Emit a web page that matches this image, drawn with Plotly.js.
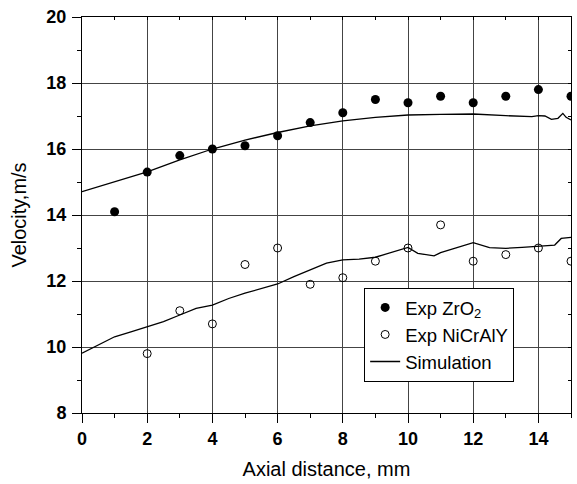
<!DOCTYPE html>
<html>
<head>
<meta charset="utf-8">
<script src="https://cdn.plot.ly/plotly-3.0.1.min.js"></script>
<style>html,body{margin:0;padding:0;background:#fff}#chart{width:577px;height:484px}</style>
</head>
<body>
<div id="chart"></div>
<script>
// Experimental data
const zrX = [1,2,3,4,5,6,7,8,9,10,11,12,13,14,15];
const zrY = [14.1,15.3,15.8,16.0,16.1,16.4,16.8,17.1,17.5,17.4,17.6,17.4,17.6,17.8,17.6];
const niX = [2,3,4,5,6,7,8,9,10,11,12,13,14,15];
const niY = [9.8,11.1,10.7,12.5,13.0,11.9,12.1,12.6,13.0,13.7,12.6,12.8,13.0,12.6];
// Simulation curves
const simUpX = [0,1,2,3,4,5,6,7,8,9,10,11,12,13,13.5,13.8,14,14.2,14.4,14.6,14.75,14.85,15];
const simUpY = [14.71,15.01,15.31,15.67,16.0,16.27,16.5,16.7,16.85,16.96,17.03,17.05,17.06,17.01,16.98,16.98,17.01,17.0,16.9,16.93,17.08,16.96,16.88];
const simLoX = [0,0.5,1,1.5,2,2.5,3,3.5,4,4.5,5,5.5,6,6.5,7,7.5,8,8.5,9,9.5,10,10.3,10.5,10.8,11,11.5,12,12.5,13,13.5,14,14.5,14.7,15];
const simLoY = [9.81,10.06,10.31,10.46,10.62,10.77,10.97,11.17,11.27,11.47,11.63,11.78,11.91,12.13,12.33,12.54,12.64,12.66,12.72,12.86,13.02,12.84,12.81,12.76,12.86,13.02,13.16,13.01,12.99,13.02,13.06,13.09,13.29,13.32];

const FONT = 'Arial, "Liberation Sans", sans-serif';

const traces = [
  {x: zrX, y: zrY, type:'scatter', mode:'markers', name:'Exp ZrO<sub>2</sub>',
   marker:{symbol:'circle', size:9, color:'#000'}},
  {x: niX, y: niY, type:'scatter', mode:'markers', name:'Exp NiCrAlY',
   marker:{symbol:'circle-open', size:8, color:'#000', line:{width:1, color:'#000'}}},
  {x: simUpX, y: simUpY, type:'scatter', mode:'lines', name:'Simulation',
   line:{color:'#000', width:1.3}},
  {x: simLoX, y: simLoY, type:'scatter', mode:'lines', name:'Simulation', showlegend:false,
   line:{color:'#000', width:1.3}},
  // invisible trace for mirror axes
  {x:[0], y:[8], xaxis:'x2', yaxis:'y2', mode:'markers', marker:{opacity:0}, showlegend:false, hoverinfo:'skip'}
];

const layout = {
  width:577, height:484,
  margin:{l:82, r:6, t:17, b:71},
  paper_bgcolor:'#fff', plot_bgcolor:'#fff',
  font:{family:FONT, color:'#000'},
  showlegend:true,
  legend:{x:0.577, y:0.316, xanchor:'left', yanchor:'top',
    bgcolor:'#fff', bordercolor:'#000', borderwidth:1,
    font:{family:FONT, size:18.5, color:'#000'}, tracegroupgap:0},
  xaxis:{range:[0,15], dtick:2, tick0:0, showgrid:true, gridcolor:'#444', gridwidth:1,
    zeroline:false, showline:true, linecolor:'#000', linewidth:1,
    ticks:'outside', ticklen:9, tickcolor:'#000',
    minor:{dtick:1, ticks:'outside', ticklen:4, tickcolor:'#000', showgrid:false},
    tickfont:{family:FONT, size:18, weight:700, color:'#000'},
    title:{text:'Axial distance, mm', font:{family:FONT, size:20, color:'#000'}, standoff:14}},
  yaxis:{range:[8,20], dtick:2, tick0:8, showgrid:true, gridcolor:'#444', gridwidth:1,
    zeroline:false, showline:true, linecolor:'#000', linewidth:1,
    ticks:'outside', ticklen:9, tickcolor:'#000', ticklabelstandoff:2,
    minor:{dtick:1, ticks:'outside', ticklen:4, tickcolor:'#000', showgrid:false},
    tickfont:{family:FONT, size:18, weight:700, color:'#000'},
    title:{text:'Velocity,m/s', font:{family:FONT, size:20, color:'#000'}, standoff:14}},
  xaxis2:{range:[0,15], overlaying:'x', side:'top', dtick:1, tick0:0, ticks:'inside', ticklen:3,
    tickcolor:'#000', showticklabels:false, showgrid:false, zeroline:false,
    showline:true, linecolor:'#000', linewidth:1},
  yaxis2:{range:[8,20], overlaying:'y', side:'right', dtick:1, tick0:8, ticks:'inside', ticklen:3,
    tickcolor:'#000', showticklabels:false, showgrid:false, zeroline:false,
    showline:true, linecolor:'#000', linewidth:1}
};

Plotly.newPlot('chart', traces, layout, {staticPlot:true, displayModeBar:false});
</script>
</body>
</html>
